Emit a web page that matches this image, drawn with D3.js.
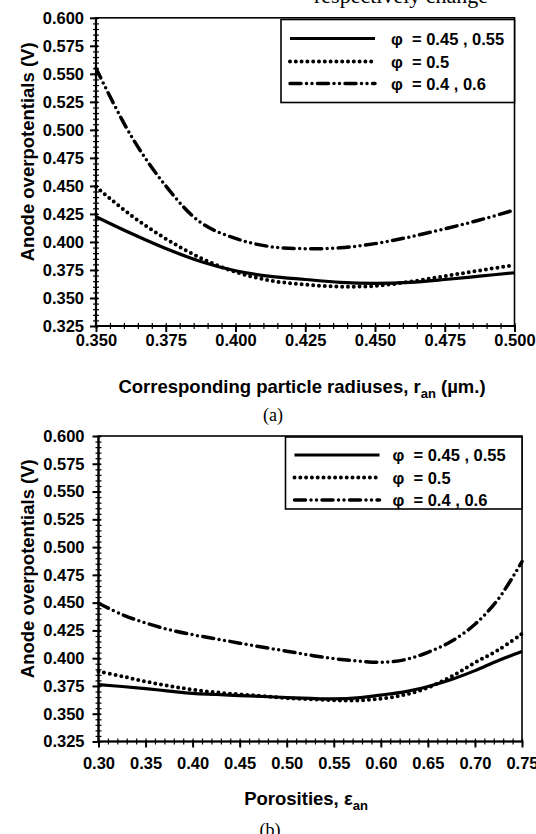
<!DOCTYPE html>
<html>
<head>
<meta charset="utf-8">
<script src="https://cdn.jsdelivr.net/npm/d3@7"></script>
<style>
  body { margin: 0; background: #fff; }
  svg { display: block; }
  .tick text { font-family: "Liberation Sans", Arial, sans-serif; font-weight: bold; }
</style>
</head>
<body>
<div id="chart"></div>
<script>
// panel (a): particle radius
const radiusX = [0.350, 0.3625, 0.375, 0.3875, 0.400, 0.4125, 0.425, 0.4375, 0.450, 0.4625, 0.475, 0.4875, 0.500];
const radiusSolid = [0.4225, 0.4077, 0.3941, 0.3826, 0.3743, 0.3693, 0.3665, 0.3640, 0.3631, 0.3640, 0.3665, 0.3695, 0.3725];
const radiusDotted = [0.4493, 0.4238, 0.4029, 0.3857, 0.3732, 0.3655, 0.3620, 0.3601, 0.3608, 0.3645, 0.3695, 0.3745, 0.3794];
const radiusDashDot = [0.5550, 0.4950, 0.4500, 0.4174, 0.4031, 0.3958, 0.3940, 0.3948, 0.3985, 0.4045, 0.4117, 0.4196, 0.4285];

// panel (b): porosity
const porosityX = [0.300, 0.325, 0.350, 0.375, 0.400, 0.425, 0.450, 0.475, 0.500, 0.525, 0.550, 0.575, 0.600, 0.625, 0.650, 0.675, 0.700, 0.725, 0.750];
const porositySolid = [0.3762, 0.3745, 0.3726, 0.3704, 0.3683, 0.3673, 0.3663, 0.3655, 0.3646, 0.3638, 0.3633, 0.3642, 0.3668, 0.3697, 0.3745, 0.3808, 0.3888, 0.3980, 0.4060];
const porosityDotted = [0.3880, 0.3837, 0.3790, 0.3750, 0.3717, 0.3692, 0.3674, 0.3659, 0.3641, 0.3631, 0.3621, 0.3620, 0.3635, 0.3670, 0.3735, 0.3835, 0.3960, 0.4075, 0.4220];
const porosityDashDot = [0.4495, 0.4393, 0.4317, 0.4257, 0.4211, 0.4174, 0.4135, 0.4098, 0.4063, 0.4027, 0.3996, 0.3975, 0.3963, 0.3985, 0.4053, 0.4152, 0.4305, 0.4535, 0.4870];

const legendLabels = ["φ  = 0.45 , 0.55", "φ  = 0.5", "φ  = 0.4 , 0.6"];
const yTicks = d3.range(0, 12).map(i => 0.325 + i * 0.025);

const W = 536, H = 834;
const sans = '"Liberation Sans", Arial, sans-serif';
const serif = '"Liberation Serif", "Times New Roman", serif';

const styles = [
  { width: 3.2, dash: null, cap: 'butt' },
  { width: 4, dash: '0 5.8', cap: 'round' },
  { width: 3.5, dash: '11 5.5 0 5.5 0 5.5', cap: 'round' }
];

const svg = d3.select('#chart').append('svg')
  .attr('width', W)
  .attr('height', H);

svg.append('rect').attr('width', W).attr('height', H).attr('fill', '#fff');

// cut-off caption from the page above
svg.append('text')
  .attr('x', 314).attr('y', 2.5)
  .style('font-family', serif)
  .style('font-size', '22px')
  .text('respectively change');

function drawPanel(cfg) {
  const x = d3.scaleLinear().domain(cfg.xDomain).range([cfg.left, cfg.right]);
  const y = d3.scaleLinear().domain([0.325, 0.600]).range([cfg.bottom, cfg.top]);

  const g = svg.append('g');

  // minor ticks (cross the axis)
  g.append('g')
    .attr('transform', `translate(${cfg.left + 3},0)`)
    .call(d3.axisLeft(y).tickValues(d3.range(0, 56).map(i => 0.325 + i * 0.005)).tickSize(6).tickFormat(''))
    .call(a => a.select('.domain').remove())
    .call(a => a.selectAll('line').attr('stroke-width', 1.2));

  g.append('g')
    .attr('transform', `translate(0,${cfg.bottom - 3})`)
    .call(d3.axisBottom(x).tickValues(cfg.xMinor).tickSize(6).tickFormat(''))
    .call(a => a.select('.domain').remove())
    .call(a => a.selectAll('line').attr('stroke-width', 1.2));

  // major ticks + labels
  const yAxis = g.append('g')
    .attr('transform', `translate(${cfg.left + 2},0)`)
    .call(d3.axisLeft(y).tickValues(yTicks).tickSize(8).tickPadding(cfg.yPad).tickFormat(d3.format('.3f')));
  yAxis.select('.domain').remove();
  yAxis.selectAll('line').attr('stroke-width', 2);
  yAxis.selectAll('text').style('font-size', '16.5px').attr('fill', '#000');

  const xAxis = g.append('g')
    .attr('transform', `translate(0,${cfg.bottom - 1})`)
    .call(d3.axisBottom(x).tickValues(cfg.xTicks).tickSize(7).tickPadding(cfg.xPad).tickFormat(d3.format(cfg.xFormat)));
  xAxis.select('.domain').remove();
  xAxis.selectAll('line').attr('stroke-width', 2);
  xAxis.selectAll('text').style('font-size', '16.5px').attr('fill', '#000');

  // frame
  g.append('rect')
    .attr('x', cfg.left).attr('y', cfg.top)
    .attr('width', cfg.right - cfg.left).attr('height', cfg.bottom - cfg.top)
    .attr('fill', 'none').attr('stroke', '#000').attr('stroke-width', 1.6);
  g.append('line')
    .attr('x1', cfg.left).attr('x2', cfg.left).attr('y1', cfg.top).attr('y2', cfg.bottom)
    .attr('stroke', '#000').attr('stroke-width', 2.2);
  g.append('line')
    .attr('x1', cfg.left).attr('x2', cfg.right).attr('y1', cfg.bottom).attr('y2', cfg.bottom)
    .attr('stroke', '#000').attr('stroke-width', 2.2);

  // curves
  const line = d3.line()
    .x(d => x(d[0]))
    .y(d => y(d[1]))
    .curve(d3.curveCatmullRom.alpha(0.5));

  cfg.series.forEach((vals, i) => {
    const s = styles[i];
    g.append('path')
      .datum(cfg.xs.map((v, j) => [v, vals[j]]))
      .attr('d', line)
      .attr('fill', 'none')
      .attr('stroke', '#000')
      .attr('stroke-width', s.width)
      .attr('stroke-linecap', s.cap)
      .attr('stroke-dasharray', s.dash);
  });

  // legend
  const lg = g.append('g').attr('transform', `translate(${cfg.legX},${cfg.legY})`);
  lg.append('rect')
    .attr('width', cfg.right - cfg.legX).attr('height', cfg.legH)
    .attr('fill', '#fff').attr('stroke', '#000').attr('stroke-width', 1.6);
  legendLabels.forEach((lab, i) => {
    const s = styles[i];
    const ry = cfg.legRows[i];
    lg.append('line')
      .attr('x1', 9).attr('x2', 94).attr('y1', ry).attr('y2', ry)
      .attr('stroke', '#000')
      .attr('stroke-width', s.width)
      .attr('stroke-linecap', s.cap)
      .attr('stroke-dasharray', s.dash);
    lg.append('text')
      .attr('x', cfg.legText).attr('y', ry + 6)
      .style('font-family', sans).style('font-weight', 'bold').style('font-size', '16.5px')
      .style('white-space', 'pre')
      .text(lab);
  });

  // y title
  const yc = (cfg.top + cfg.bottom) / 2 - 20;
  svg.append('text')
    .attr('transform', `translate(34,${yc}) rotate(-90)`)
    .attr('text-anchor', 'middle')
    .style('font-family', sans).style('font-weight', 'bold').style('font-size', '18.5px')
    .text('Anode overpotentials (V)');

  // x title
  const xt = svg.append('text')
    .attr('x', cfg.xTitleX).attr('y', cfg.xTitleY)
    .attr('text-anchor', 'middle')
    .style('font-family', sans).style('font-weight', 'bold').style('font-size', '18.5px');
  xt.append('tspan').text(cfg.xTitle[0]);
  xt.append('tspan').attr('dy', 5).style('font-size', '13px').text('an');
  if (cfg.xTitle[1]) xt.append('tspan').attr('dy', -5).style('white-space', 'pre').text(cfg.xTitle[1]);

  svg.append('text')
    .attr('x', cfg.capX).attr('y', cfg.capY)
    .attr('text-anchor', 'middle')
    .style('font-family', serif).style('font-size', '18px')
    .text(cfg.caption);
}

drawPanel({
  xs: radiusX,
  series: [radiusSolid, radiusDotted, radiusDashDot],
  xDomain: [0.350, 0.500],
  xTicks: d3.range(0, 7).map(i => 0.350 + i * 0.025),
  xMinor: d3.range(0, 31).map(i => 0.350 + i * 0.005),
  xFormat: '.3f',
  left: 96, right: 514.5, top: 17.8, bottom: 326,
  yPad: 6, xPad: 2,
  legX: 281, legY: 19.5, legH: 83, legRows: [19, 42, 64], legText: 110,
  xTitle: ['Corresponding particle radiuses, r', ' (\u00b5m.)'],
  xTitleX: 302, xTitleY: 392.5,
  caption: '(a)', capX: 273, capY: 421
});

drawPanel({
  xs: porosityX,
  series: [porositySolid, porosityDotted, porosityDashDot],
  xDomain: [0.30, 0.75],
  xTicks: d3.range(0, 10).map(i => 0.30 + i * 0.05),
  xMinor: d3.range(0, 46).map(i => 0.30 + i * 0.01),
  xFormat: '.2f',
  left: 98.5, right: 522, top: 436, bottom: 741.5,
  yPad: 8, xPad: 9.5,
  legX: 285.5, legY: 437, legH: 72, legRows: [18, 40.5, 63], legText: 107,
  xTitle: ['Porosities, \u03b5', ''],
  xTitleX: 306, xTitleY: 804.5,
  caption: '(b)', capX: 270, capY: 836
});
</script>
</body>
</html>
